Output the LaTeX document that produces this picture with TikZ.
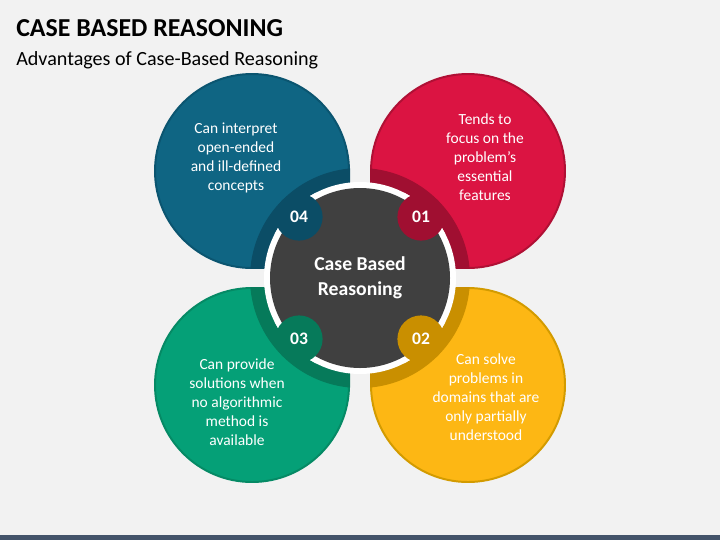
\documentclass[tikz,border=0pt]{standalone}
\usepackage{fontspec}
\setmainfont{Carlito}
\definecolor{pagebg}{HTML}{F2F2F2}
\definecolor{footbar}{HTML}{44546A}
\definecolor{hubgrey}{HTML}{404040}
\definecolor{tealfill}{HTML}{0F6583}
\definecolor{tealedge}{HTML}{0B5570}
\definecolor{tealdark}{HTML}{0B4D66}
\definecolor{redfill}{HTML}{DB1442}
\definecolor{rededge}{HTML}{B01035}
\definecolor{reddark}{HTML}{A00F31}
\definecolor{goldfill}{HTML}{FDB714}
\definecolor{goldedge}{HTML}{D39B00}
\definecolor{golddark}{HTML}{C98F00}
\definecolor{greenfill}{HTML}{05A077}
\definecolor{greenedge}{HTML}{058A65}
\definecolor{greendark}{HTML}{067A5A}
\begin{document}
\begin{tikzpicture}[x=0.025cm,y=-0.025cm,
    petaltext/.style={text=white,align=center,inner sep=0pt,
      font=\fontsize{11}{13.6}\selectfont},
    numdot/.style={circle,inner sep=0pt,minimum size=1.18cm,text=white,
      font=\bfseries\fontsize{12.5}{15}\selectfont}]

        \useasboundingbox (0,0) rectangle (720,540);
        \fill[pagebg] (0,0) rectangle (720,540);
        \fill[footbar] (0,535) rectangle (720,540);

        \node[anchor=base west,inner sep=0pt,font=\bfseries\fontsize{18.4}{22}\selectfont]
          (title) at (16,36) {CASE BASED REASONING};
        \node[anchor=base west,inner sep=0pt,font=\fontsize{14.3}{17}\selectfont]
          (subtitle) at (16,65) {Advantages of Case-Based Reasoning};

        \coordinate (hub) at (360,278);
        \coordinate (c01) at (421,217);
        \coordinate (c02) at (421,339);
        \coordinate (c03) at (299,339);
        \coordinate (c04) at (299,217);

        \begin{scope}
          \clip (0,0) rectangle (350,268.5);
          \fill[tealfill] (252,171) circle[radius=97];
          \draw[tealedge,line width=1.4pt] (252,171) circle[radius=97];
          \begin{scope}
            \clip (252,171) circle[radius=97];
            \draw[tealedge,line width=1.4pt] (0,0) rectangle (350,268.5);
          \end{scope}
          \fill[tealdark] (hub) circle[radius=110];
        \end{scope}

        \begin{scope}
          \clip (370,0) rectangle (720,268.5);
          \fill[redfill] (468,171) circle[radius=97];
          \draw[rededge,line width=1.4pt] (468,171) circle[radius=97];
          \begin{scope}
            \clip (468,171) circle[radius=97];
            \draw[rededge,line width=1.4pt] (370,0) rectangle (720,268.5);
          \end{scope}
          \fill[reddark] (hub) circle[radius=110];
        \end{scope}

        \begin{scope}
          \clip (370,287.5) rectangle (720,540);
          \fill[goldfill] (468,385) circle[radius=97];
          \draw[goldedge,line width=1.4pt] (468,385) circle[radius=97];
          \begin{scope}
            \clip (468,385) circle[radius=97];
            \draw[goldedge,line width=1.4pt] (370,287.5) rectangle (720,540);
          \end{scope}
          \fill[golddark] (hub) circle[radius=110];
        \end{scope}

        \begin{scope}
          \clip (0,287.5) rectangle (350,540);
          \fill[greenfill] (252,385) circle[radius=97];
          \draw[greenedge,line width=1.4pt] (252,385) circle[radius=97];
          \begin{scope}
            \clip (252,385) circle[radius=97];
            \draw[greenedge,line width=1.4pt] (0,287.5) rectangle (350,540);
          \end{scope}
          \fill[greendark] (hub) circle[radius=110];
        \end{scope}

        \fill[white] (hub) circle[radius=96];
        \begin{scope}
          \clip (hub) circle[radius=96];
          \fill[white] (c01) circle[radius=30];
          \fill[white] (c02) circle[radius=30];
          \fill[white] (c03) circle[radius=30];
          \fill[white] (c04) circle[radius=30];
        \end{scope}
        \fill[hubgrey] (hub) circle[radius=90];

        \node[numdot,fill=reddark]   (n01) at (c01) {01};
        \node[numdot,fill=golddark]  (n02) at (c02) {02};
        \node[numdot,fill=greendark] (n03) at (c03) {03};
        \node[numdot,fill=tealdark]  (n04) at (c04) {04};

        \node[text=white,align=center,inner sep=0pt,
          font=\bfseries\fontsize{14}{17.5}\selectfont] (core) at (hub)
          {Case Based\\Reasoning};

        \node[petaltext] (adv01) at (485,157)
          {Tends to\\focus on the\\problem’s\\essential\\features};
        \node[petaltext] (adv02) at (486,397)
          {Can solve\\problems in\\domains that are\\only partially\\understood};
        \node[petaltext] (adv03) at (237,402)
          {Can provide\\solutions when\\no algorithmic\\method is\\available};
        \node[petaltext] (adv04) at (236,158)
          {Can interpret\\open-ended\\and ill-defined\\concepts};

      \end{tikzpicture}
\end{document}
